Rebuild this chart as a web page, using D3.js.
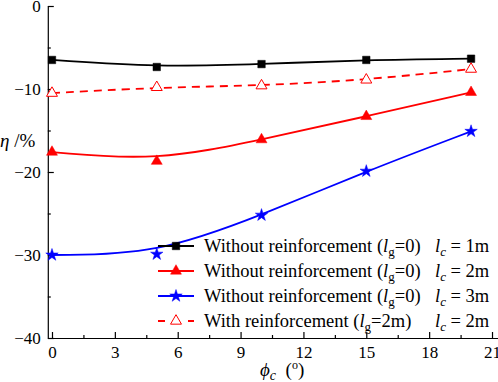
<!DOCTYPE html>
<html>
<head>
<meta charset="utf-8">
<script src="https://cdn.jsdelivr.net/npm/d3@7/dist/d3.min.js"></script>
<style>
  body { margin: 0; background: #fff; }
</style>
</head>
<body>
<svg id="chart-svg" width="498" height="382"></svg>
<script>
// friction angle of the slip surface (deg)
const phiValues = [0, 5, 10, 15, 20];

// eta (%)
const etaLc1 = [-6.5, -7.35, -7.0, -6.5, -6.35];
const etaLc2 = [-17.6, -18.7, -16.1, -13.3, -10.4];
const etaLc3 = [-30.0, -29.9, -25.2, -19.9, -15.1];
const etaReinf = [-10.5, -9.8, -9.6, -8.9, -7.6];

const xTicks = [0, 3, 6, 9, 12, 15, 18, 21];
const xMinor = [1.5, 4.5, 7.5, 10.5, 13.5, 16.5, 19.5];
const yTicks = [0, -10, -20, -30, -40];
const yMinor = [-5, -15, -25, -35];

const serif = 'Liberation Serif, Times New Roman, DejaVu Serif, serif';

const seriesList = [
  { values: etaLc1, color: '#000000', symbol: d3.symbolSquare, size: 56, hollow: false, dashed: false, lc: '1m', lg: '0', label: 'Without reinforcement' },
  { values: etaLc2, color: '#ff0000', symbol: d3.symbolTriangle, size: 52, hollow: false, dashed: false, lc: '2m', lg: '0', label: 'Without reinforcement' },
  { values: etaLc3, color: '#0000ff', symbol: d3.symbolStar, size: 48, hollow: false, dashed: false, lc: '3m', lg: '0', label: 'Without reinforcement' },
  { values: etaReinf, color: '#ff0000', symbol: d3.symbolTriangle, size: 52, hollow: true, dashed: true, lc: '2m', lg: '2m', label: 'With reinforcement' }
];

let svg = d3.select('#chart-svg').attr('font-family', serif);

let x = d3.scaleLinear().domain([-0.2, 21.3]).range([47.8, 498.3]);
let y = d3.scaleLinear().domain([-40, 0]).range([338, 6]);

const axisLeftX = x(-0.2);
const axisBottomY = y(-40);

// y axis
let yAxisGroup = svg.append('g').attr('transform', 'translate(' + axisLeftX + ',0)');
yAxisGroup.call(d3.axisLeft(y).tickValues(yTicks).tickSize(-6).tickSizeOuter(0).tickPadding(7)
  .tickFormat(d => d === 0 ? '0' : '\u2212' + Math.abs(d)));
let yMinorGroup = svg.append('g').attr('transform', 'translate(' + axisLeftX + ',0)');
yMinorGroup.call(d3.axisLeft(y).tickValues(yMinor).tickSize(-3).tickSizeOuter(0).tickFormat(''));
yMinorGroup.select('.domain').remove();

// x axis
let xAxisGroup = svg.append('g').attr('transform', 'translate(0,' + axisBottomY + ')');
xAxisGroup.call(d3.axisBottom(x).tickValues(xTicks).tickSize(-6).tickSizeOuter(0).tickPadding(8));
let xMinorGroup = svg.append('g').attr('transform', 'translate(0,' + axisBottomY + ')');
xMinorGroup.call(d3.axisBottom(x).tickValues(xMinor).tickSize(-3).tickSizeOuter(0).tickFormat(''));
xMinorGroup.select('.domain').remove();

svg.selectAll('g').attr('font-family', serif);
svg.selectAll('.tick text').attr('font-size', 17).attr('fill', '#000');
svg.selectAll('.domain, .tick line').attr('stroke', '#000').attr('stroke-width', 1.2);

// axis titles
let yTitle = svg.append('text').attr('x', 0).attr('y', 147).attr('font-size', 19);
yTitle.append('tspan').attr('font-style', 'italic').text('\u03b7');
yTitle.append('tspan').text(' /%');

let xTitle = svg.append('text').attr('x', 260).attr('y', 376).attr('font-size', 19);
xTitle.append('tspan').attr('font-style', 'italic').text('\u03d5');
xTitle.append('tspan').attr('font-style', 'italic').attr('font-size', 14).attr('dy', 4).text('c');
xTitle.append('tspan').attr('dy', -4).text('\u00a0\u00a0(');
xTitle.append('tspan').attr('font-size', 12).attr('dy', -7).text('o');
xTitle.append('tspan').attr('dy', 7).text(')');

// curves
let lineGenerator = d3.line()
  .x((d, i) => x(phiValues[i]))
  .y(d => y(d))
  .curve(d3.curveBasis);

let plot = svg.append('g');

seriesList.forEach(s => {
  plot.append('path')
    .attr('d', lineGenerator(s.values))
    .attr('fill', 'none')
    .attr('stroke', s.color)
    .attr('stroke-width', 1.8)
    .attr('stroke-dasharray', s.dashed ? '8,6' : null);
});

seriesList.forEach(s => {
  plot.selectAll(null)
    .data(s.values)
    .enter()
    .append('path')
    .attr('d', d3.symbol().type(s.symbol).size(s.size))
    .attr('transform', (d, i) => 'translate(' + x(phiValues[i]) + ',' + y(d) + ')')
    .attr('fill', s.hollow ? '#fff' : s.color)
    .attr('stroke', s.color)
    .attr('stroke-width', s.hollow ? 1 : 0.5);
});

// legend
let legend = svg.append('g');
seriesList.forEach((s, i) => {
  let rowY = 246 + i * 25;
  legend.append('line')
    .attr('x1', 158).attr('x2', 194)
    .attr('y1', rowY).attr('y2', rowY)
    .attr('stroke', s.color)
    .attr('stroke-width', 1.8)
    .attr('stroke-dasharray', s.dashed ? '7,8' : null);
  legend.append('path')
    .attr('d', d3.symbol().type(s.symbol).size(s.size)())
    .attr('transform', 'translate(176,' + rowY + ')')
    .attr('fill', s.hollow ? '#fff' : s.color)
    .attr('stroke', s.color)
    .attr('stroke-width', s.hollow ? 1 : 0.5);

  let t = legend.append('text').attr('x', 204).attr('y', rowY + 6).attr('font-size', 18.5);
  t.append('tspan').text(s.label + ' (');
  t.append('tspan').attr('font-style', 'italic').text('l');
  t.append('tspan').attr('font-size', 13).attr('dy', 4).text('g');
  t.append('tspan').attr('dy', -4).text('=' + s.lg + ')');

  let t2 = legend.append('text').attr('x', 435).attr('y', rowY + 6).attr('font-size', 18.5);
  t2.append('tspan').attr('font-style', 'italic').text('l');
  t2.append('tspan').attr('font-style', 'italic').attr('font-size', 13).attr('dy', 4).text('c');
  t2.append('tspan').attr('dy', -4).text(' = ' + s.lc);
});
</script>
</body>
</html>
